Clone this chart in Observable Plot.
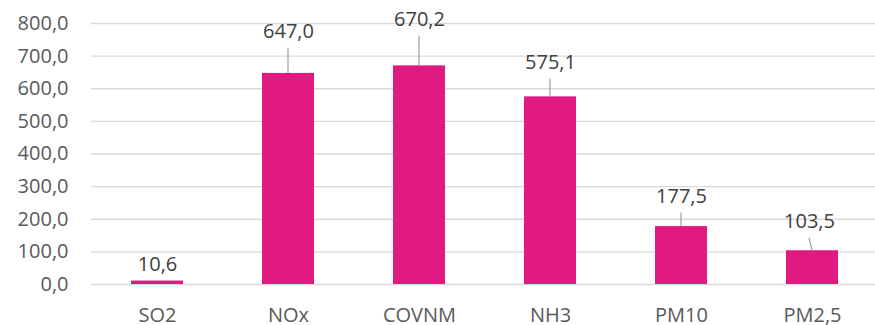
<!DOCTYPE html>
<html>
<head>
<meta charset="utf-8">
<script src="https://cdn.jsdelivr.net/npm/d3@7"></script>
<script src="https://cdn.jsdelivr.net/npm/@observablehq/plot@0.6"></script>
<style>
  html, body { margin: 0; padding: 0; background: #fff; }
  #chart svg { display: block; font-family: "Open Sans", sans-serif; }
</style>
</head>
<body>
<div id="chart"></div>
<script>
// Data
const categories = ["SO2", "NOx", "COVNM", "NH3", "PM10", "PM2,5"];
const values = [10.6, 647.0, 670.2, 575.1, 177.5, 103.5];
const yTicks = [0, 100, 200, 300, 400, 500, 600, 700, 800];

// Label placement (pixel offsets of data labels above bar tops, as dragged in the original)
const labelDy = [-16, -42, -46, -34, -30, -29];
const labelDx = [0, 0, 0, 0, 0, -3];

const fmt = d => d.toFixed(1).replace(".", ",");
const data = categories.map((c, i) => ({cat: c, value: values[i], dy: labelDy[i], dx: labelDx[i]}));

const barColor = "#E01A80";

// Leader lines from label to bar top
function leaders(index, scales) {
  const sx = scales.x, sy = scales.y;
  const bw = typeof sx.bandwidth === "function" ? sx.bandwidth() : sx.bandwidth;
  const g = d3.create("svg:g").attr("stroke", "#a6a6a6").attr("stroke-width", 1.3);
  data.forEach(d => {
    const xb = sx(d.cat) + bw / 2;
    const yb = sy(d.value);
    const yt = yb + d.dy + 16.5;
    if (yb - yt > 2) {
      g.append("line")
        .attr("x1", xb + d.dx).attr("y1", yt)
        .attr("x2", xb).attr("y2", yb);
    }
  });
  return g.node();
}

const labelMarks = data.map(d =>
  Plot.text([d], {x: "cat", y: "value", text: r => fmt(r.value), dy: d.dy, dx: d.dx, fill: "#404040", fontSize: 20})
);

const chart = Plot.plot({
  width: 875,
  height: 325,
  marginLeft: 91,
  marginRight: 0,
  marginTop: 23,
  marginBottom: 41,
  style: {fontFamily: "Open Sans, sans-serif", fontSize: "20px", background: "#fff"},
  x: {domain: categories, range: [91.3, 879], paddingInner: 0.6, paddingOuter: 0.3, label: null},
  y: {domain: [0, 800], label: null},
  marks: [
    Plot.ruleY(yTicks, {stroke: "#d9d9d9", strokeWidth: 1.3}),
    Plot.barY(data, {x: "cat", y: "value", fill: barColor}),
    leaders,
    ...labelMarks,
    Plot.axisY(yTicks, {tickSize: 0, tickPadding: 23, tickFormat: fmt, fill: "#595959", fontSize: 20, label: null}),
    Plot.axisX({tickSize: 0, tickPadding: 23, fill: "#595959", fontSize: 20, label: null})
  ]
});

document.getElementById("chart").appendChild(chart);
</script>
</body>
</html>
